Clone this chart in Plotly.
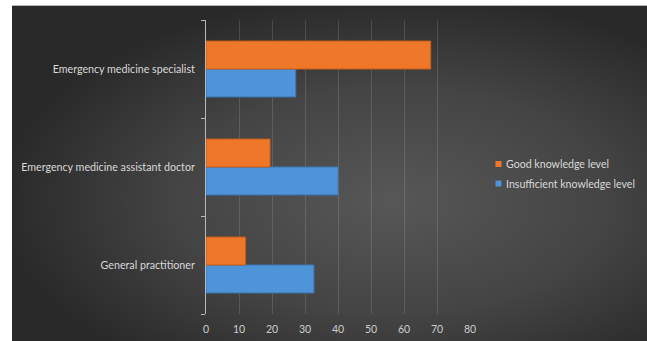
import base64
import plotly.graph_objects as go

# Knowledge level by physician group (%)
categories = [
    "General practitioner",
    "Emergency medicine assistant doctor",
    "Emergency medicine specialist",
]
good_knowledge = [12, 19.4, 68.1]
insufficient_knowledge = [32.7, 40, 27.2]
series_names = ["Good knowledge level", "Insufficient knowledge level"]
x_ticks = [0, 10, 20, 30, 40, 50, 60, 70, 80]

W, H = 647, 341
L, R, T, B = 206, 177, 20, 27
pw, ph = W - L - R, H - T - B

FONT = "Lato, sans-serif"
ORANGE, BLUE = "#ef772a", "#4f93d8"
TEXT = "#d9d9d9"

# Dark radial-gradient backdrop (as an SVG image behind the plot)
bx0, by0 = 12, 6
svg = f"""<svg xmlns='http://www.w3.org/2000/svg' width='{W - bx0}' height='{H - by0}' viewBox='0 0 {W - bx0} {H - by0}' preserveAspectRatio='none'>
<defs><radialGradient id='g' cx='0.6' cy='0.58' r='0.62' gradientUnits='objectBoundingBox'>
<stop offset='0' stop-color='#575757'/><stop offset='0.55' stop-color='#444444'/><stop offset='1' stop-color='#292929'/>
</radialGradient></defs>
<rect width='{W - bx0}' height='{H - by0}' fill='url(#g)'/></svg>"""
bg_src = "data:image/svg+xml;base64," + base64.b64encode(svg.encode()).decode()

fig = go.Figure()
fig.add_trace(go.Bar(
    y=categories, x=insufficient_knowledge, orientation="h",
    name=series_names[1], showlegend=False,
    marker=dict(color=BLUE, line=dict(color="#3a78b8", width=1)),
))
fig.add_trace(go.Bar(
    y=categories, x=good_knowledge, orientation="h",
    name=series_names[0], showlegend=False,
    marker=dict(color=ORANGE, line=dict(color="#c95e18", width=1)),
))


def px_x(px):
    return (px - L) / pw


def px_y(py):
    return (H - B - py) / ph


# thin light rule along the top edge of the dark panel
shapes = [dict(
    type="line", xref="paper", yref="paper",
    x0=px_x(bx0), x1=px_x(W), y0=px_y(5.5), y1=px_y(5.5),
    line=dict(color="#b5b5b5", width=1), layer="below",
)]
# Legend drawn as small square keys with labels on the right-hand side
annotations = []
for i, (name, col) in enumerate(zip(series_names, [ORANGE, BLUE])):
    cy = 164 + i * 19.5
    shapes.append(dict(
        type="rect", xref="paper", yref="paper",
        x0=px_x(495.5), x1=px_x(501.5), y0=px_y(cy + 3), y1=px_y(cy - 3),
        fillcolor=col, line=dict(width=0),
    ))
    annotations.append(dict(
        text=name, xref="paper", yref="paper", x=px_x(504), y=px_y(cy),
        xanchor="left", yanchor="middle", showarrow=False,
        font=dict(family=FONT, size=10.6, color=TEXT),
    ))

fig.update_layout(
    width=W, height=H,
    margin=dict(l=L, r=R, t=T, b=B, pad=0, autoexpand=False),
    paper_bgcolor="white",
    plot_bgcolor="rgba(0,0,0,0)",
    barmode="group",
    bargap=0.43,
    bargroupgap=0,
    showlegend=False,
    font=dict(family=FONT, size=11, color=TEXT),
    images=[dict(
        source=bg_src, xref="paper", yref="paper",
        x=px_x(bx0), y=px_y(by0),
        sizex=(W - bx0) / pw, sizey=(H - by0) / ph,
        xanchor="left", yanchor="top", sizing="stretch", layer="below",
    )],
    shapes=shapes,
    annotations=annotations,
    xaxis=dict(
        range=[0, 80], tickvals=x_ticks, showgrid=True,
        gridcolor="rgba(255,255,255,0.13)", gridwidth=1,
        zeroline=False, showline=False, ticks="", automargin=False,
        ticklabelstandoff=7,
        tickfont=dict(family=FONT, size=10.5, color="#cccccc"),
    ),
    yaxis=dict(
        categoryorder="array", categoryarray=categories,
        showline=True, linecolor="#b8b8b8", linewidth=1, automargin=False,
        ticks="outside", tickson="boundaries", ticklen=4, tickcolor="#b8b8b8",
        showgrid=False, ticklabelstandoff=8,
        tickfont=dict(family=FONT, size=10.7, color=TEXT),
    ),
)

fig.write_html("out.html")
